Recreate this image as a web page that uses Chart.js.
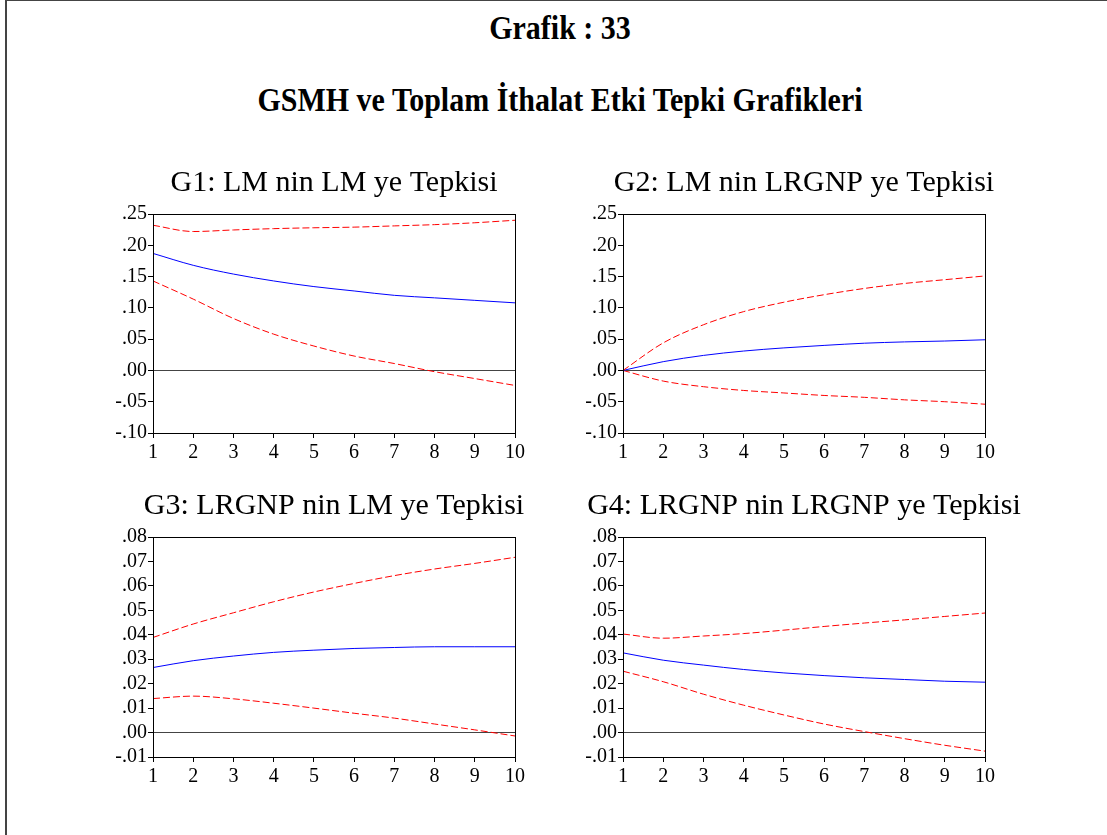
<!DOCTYPE html>
<html>
<head>
<meta charset="utf-8">
<script src="https://cdn.jsdelivr.net/npm/chart.js@4.4.0/dist/chart.umd.min.js"></script>
<style>
  body { margin: 0; background: #fff; width: 1107px; height: 835px; position: relative; overflow: hidden; }
  .frame { position: absolute; left: 5px; top: 0; width: 1200px; height: 900px; border-left: 2px solid #444; border-top: 1px solid #444; }
  .baslik { position: absolute; left: 0; width: 1120px; text-align: center; font-family: "Liberation Serif", "Times New Roman", serif; font-weight: bold; font-size: 30px; transform: scaleY(1.12); }
  canvas { position: absolute; }
</style>
</head>
<body>
<div class="frame"></div>
<div class="baslik" style="top:10px; line-height:36px;">Grafik : 33</div>
<div class="baslik" style="top:82px; line-height:36px;">GSMH ve Toplam İthalat Etki Tepki Grafikleri</div>

<canvas id="g1" width="462" height="302" style="left:103px; top:160px;"></canvas>
<canvas id="g2" width="462" height="302" style="left:573px; top:160px;"></canvas>
<canvas id="g3" width="462" height="303" style="left:103px; top:483px;"></canvas>
<canvas id="g4" width="462" height="303" style="left:573px; top:483px;"></canvas>

<script>
// donemler (x ekseni)
const periods = ['1', '2', '3', '4', '5', '6', '7', '8', '9', '10'];

// G1: LM nin LM ye Tepkisi
const g1Tepki = [0.187, 0.168, 0.154, 0.143, 0.134, 0.127, 0.120, 0.116, 0.112, 0.108];
const g1Ust   = [0.232, 0.222, 0.2245, 0.2266, 0.228, 0.229, 0.231, 0.233, 0.236, 0.240];
const g1Alt   = [0.143, 0.114, 0.083, 0.058, 0.039, 0.023, 0.011, -0.002, -0.013, -0.024];

// G2: LM nin LRGNP ye Tepkisi
const g2Tepki = [0.000, 0.014, 0.024, 0.031, 0.036, 0.040, 0.0435, 0.0456, 0.047, 0.049];
const g2Ust   = [0.000, 0.044, 0.073, 0.094, 0.109, 0.121, 0.131, 0.139, 0.145, 0.151];
const g2Alt   = [0.000, -0.017, -0.026, -0.032, -0.036, -0.040, -0.043, -0.047, -0.050, -0.054];

// G3: LRGNP nin LM ye Tepkisi
const g3Tepki = [0.0266, 0.0294, 0.0313, 0.0328, 0.0337, 0.0344, 0.0348, 0.0351, 0.0351, 0.0351];
const g3Ust   = [0.0389, 0.0444, 0.0490, 0.0535, 0.0575, 0.0610, 0.0642, 0.0669, 0.0692, 0.0717];
const g3Alt   = [0.0139, 0.0149, 0.0138, 0.0120, 0.0100, 0.0079, 0.0059, 0.0035, 0.0011, -0.0014];

// G4: LRGNP nin LRGNP ye Tepkisi
const g4Tepki = [0.0326, 0.0296, 0.0276, 0.0258, 0.0244, 0.0233, 0.0224, 0.0217, 0.0210, 0.0206];
const g4Ust   = [0.0403, 0.0386, 0.0395, 0.0405, 0.0419, 0.0434, 0.0448, 0.0461, 0.0475, 0.0489];
const g4Alt   = [0.0251, 0.0208, 0.0157, 0.0112, 0.0072, 0.0035, 0.0004, -0.0025, -0.0052, -0.0076];

const serif = '"Liberation Serif", "Times New Roman", serif';

// cizim alaninin etrafina kutu
const kutuPlugin = {
  id: 'kutu',
  afterDraw(chart) {
    const a = chart.chartArea;
    const ctx = chart.ctx;
    ctx.save();
    ctx.strokeStyle = '#000';
    ctx.lineWidth = 1;
    ctx.strokeRect(Math.round(a.left) + 0.5, Math.round(a.top) + 0.5, Math.round(a.right - a.left), Math.round(a.bottom - a.top));
    ctx.restore();
  }
};

function etiket(v) {
  const s = Math.abs(v).toFixed(2).slice(1);
  return v < -1e-9 ? '-' + s : s;
}

function grafikCiz(id, baslik, tepki, ust, alt, yMin, yMax, adim) {
  const kesikli = (veri) => ({
    data: veri,
    borderColor: '#ff0000',
    borderWidth: 1,
    borderDash: [7, 3],
    pointRadius: 0,
    cubicInterpolationMode: 'monotone',
    fill: false
  });
  new Chart(document.getElementById(id), {
    type: 'line',
    data: {
      labels: periods,
      datasets: [
        kesikli(ust),
        { data: tepki, borderColor: '#0000ff', borderWidth: 1, pointRadius: 0, cubicInterpolationMode: 'monotone', fill: false },
        kesikli(alt)
      ]
    },
    options: {
      responsive: false,
      animation: false,
      layout: { padding: 0 },
      plugins: {
        legend: { display: false },
        tooltip: { enabled: false },
        title: {
          display: true,
          text: baslik,
          color: '#000',
          font: { family: serif, size: 30, weight: 'normal' },
          padding: { top: 5, bottom: 13 }
        }
      },
      scales: {
        x: {
          offset: false,
          grid: { drawOnChartArea: false, tickLength: 5, tickColor: '#000' },
          border: { color: '#000' },
          ticks: { color: '#000', font: { family: serif, size: 20 }, padding: 3, maxRotation: 0, autoSkip: false },
          afterFit(scale) { scale.height = 29; }
        },
        y: {
          min: yMin,
          max: yMax,
          grid: {
            tickLength: 5,
            tickColor: '#000',
            color: (c) => (c.tick && Math.abs(c.tick.value) < 1e-9 ? '#444' : 'rgba(0,0,0,0)')
          },
          border: { color: '#000' },
          ticks: { stepSize: adim, color: '#000', font: { family: serif, size: 20 }, padding: 1, autoSkip: false, callback: etiket },
          afterFit(scale) { scale.width = 50; }
        },
        // sagda bos eksen: basligi cizim alaninin ortasina getirmek icin
        ySag: {
          position: 'right',
          min: yMin,
          max: yMax,
          grid: { display: false },
          border: { display: false },
          ticks: { display: false },
          afterFit(scale) { scale.width = 50; }
        }
      }
    },
    plugins: [kutuPlugin]
  });
}

grafikCiz('g1', 'G1: LM nin LM ye Tepkisi', g1Tepki, g1Ust, g1Alt, -0.10, 0.25, 0.05);
grafikCiz('g2', 'G2: LM nin LRGNP ye Tepkisi', g2Tepki, g2Ust, g2Alt, -0.10, 0.25, 0.05);
grafikCiz('g3', 'G3: LRGNP nin LM ye Tepkisi', g3Tepki, g3Ust, g3Alt, -0.01, 0.08, 0.01);
grafikCiz('g4', 'G4: LRGNP nin LRGNP ye Tepkisi', g4Tepki, g4Ust, g4Alt, -0.01, 0.08, 0.01);
</script>
</body>
</html>
